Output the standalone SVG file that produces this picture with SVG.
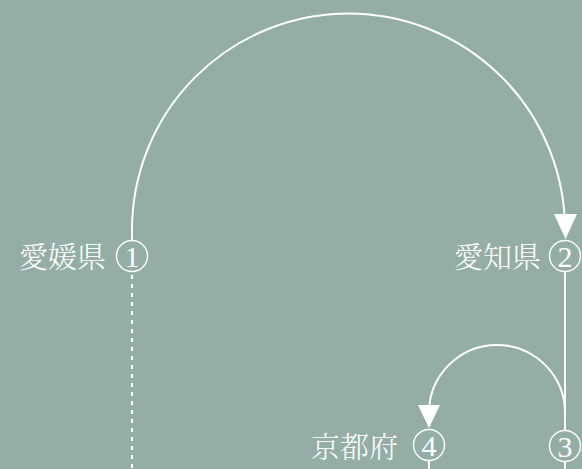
<svg xmlns="http://www.w3.org/2000/svg" width="582" height="469" viewBox="0 0 582 469">
<defs>
<style>
.bg{fill:#94aea6}
.ln{fill:none;stroke:#ffffff;stroke-width:2}
.dash{fill:none;stroke:#ffffff;stroke-width:2.2;stroke-dasharray:4 5}
.ring{fill:#94aea6;stroke:#ffffff;stroke-width:1.4}
.num{font-family:"Liberation Serif","DejaVu Serif",serif;font-size:30px;fill:#ffffff;text-anchor:middle}
.lbl{font-family:"Noto Serif CJK JP","Noto Sans CJK JP",serif;font-size:29px;font-weight:300;fill:#ffffff;text-anchor:end}
.head{fill:#ffffff}
</style>
</defs>
<rect class="bg" x="0" y="0" width="582" height="469"/>
<g id="connectors">
<path class="ln" d="M132 240 L132 230 A216.5 216.5 0 0 1 565 230 L565 216"/>
<polygon class="head" points="554,214 577,214 565.5,239"/>
<line class="dash" x1="132" y1="275" x2="132" y2="469"/>
<line class="ln" x1="565" y1="272" x2="565" y2="430"/>
<path class="ln" d="M565 430 L565 413 A68 68 0 0 0 429 413 L429 407"/>
<polygon class="head" points="418,405 440,405 429,428"/>
<line class="ln" x1="429" y1="461" x2="429" y2="469"/>
<line class="ln" x1="565" y1="462" x2="565" y2="469"/>
</g>
<g id="node1">
<circle class="ring" cx="132" cy="256" r="15.5"/>
<text class="num" x="132" y="266.5">1</text>
<text class="lbl" x="106" y="268">愛媛県</text>
</g>
<g id="node2">
<circle class="ring" cx="565" cy="256" r="15.5"/>
<text class="num" x="565" y="266.5">2</text>
<text class="lbl" x="541" y="268">愛知県</text>
</g>
<g id="node3">
<circle class="ring" cx="565" cy="446" r="15.5"/>
<text class="num" x="565" y="456.5">3</text>
</g>
<g id="node4">
<circle class="ring" cx="429" cy="445" r="15.5"/>
<text class="num" x="429" y="455.5">4</text>
<text class="lbl" x="398" y="458">京都府</text>
</g>
</svg>
